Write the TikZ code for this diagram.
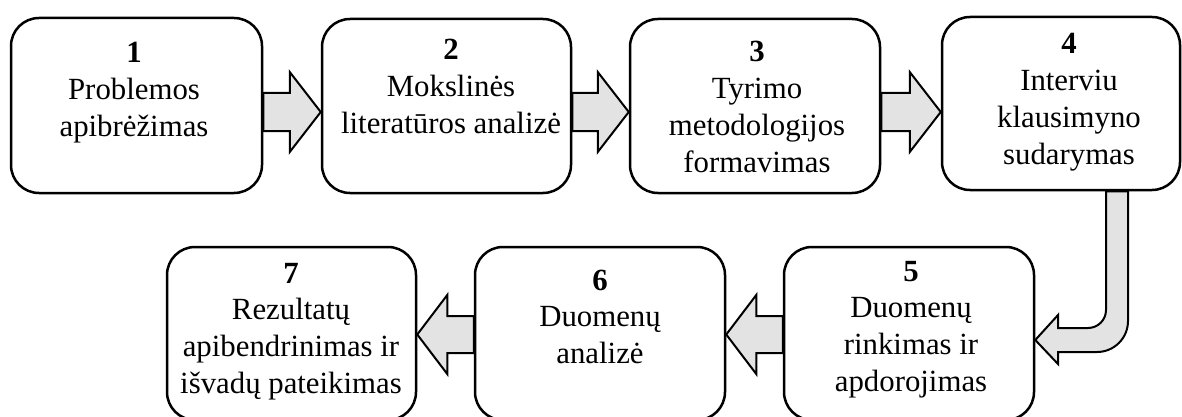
\documentclass[tikz,border=0pt]{standalone}
\usepackage{fontspec}
\setmainfont{Liberation Serif}
\usetikzlibrary{calc}

\definecolor{arrowfill}{gray}{0.89}

\tikzset{
  stepbox/.style={draw, line width=2.5pt, rounded corners=28pt, inner sep=0pt, rectangle},
  blockarrow/.style={draw, fill=arrowfill, line width=2pt, line join=miter},
  lbl/.style={inner sep=0pt, anchor=base, font=\fontsize{30.8}{36.8}\selectfont}
}

% right-pointing block arrow: from node, to node, shaft centre y
\newcommand\rightblock[3]{%
  \draw[blockarrow] ($(#1.east |- 0,#3)+(0,-19)$) -- ($(#2.west |- 0,#3)+(-31,-19)$)
    -- ($(#2.west |- 0,#3)+(-31,-40)$) -- (#2.west |- 0,#3)
    -- ($(#2.west |- 0,#3)+(-31,40)$) -- ($(#2.west |- 0,#3)+(-31,19)$)
    -- ($(#1.east |- 0,#3)+(0,19)$) -- cycle;}
% left-pointing block arrow: from node, to node, shaft centre y
\newcommand\leftblock[3]{%
  \draw[blockarrow] ($(#1.west |- 0,#3)+(0,-18.5)$) -- ($(#2.east |- 0,#3)+(30,-18.5)$)
    -- ($(#2.east |- 0,#3)+(30,-39.5)$) -- (#2.east |- 0,#3)
    -- ($(#2.east |- 0,#3)+(30,39.5)$) -- ($(#2.east |- 0,#3)+(30,18.5)$)
    -- ($(#1.west |- 0,#3)+(0,18.5)$) -- cycle;}

\newcommand\steptext[1]{\begin{tabular}[t]{@{}c@{}}#1\end{tabular}}

\begin{document}
\begin{tikzpicture}[x=1pt, y=-1pt]
  \useasboundingbox (0,0) rectangle (1182,417);
  \clip (0,0) rectangle (1182,417);

  % process steps
  \node[stepbox, minimum width=251, minimum height=175] (b1) at (136.5,105.5) {};
  \node[stepbox, minimum width=249, minimum height=174] (b2) at (446.5,106) {};
  \node[stepbox, minimum width=250, minimum height=174] (b3) at (755,106) {};
  \node[stepbox, minimum width=238, minimum height=173] (b4) at (1061,103.5) {};
  \node[stepbox, minimum width=250, minimum height=173] (b5) at (909,333.5) {};
  \node[stepbox, minimum width=250, minimum height=173] (b6) at (600,333.5) {};
  \node[stepbox, minimum width=249, minimum height=173] (b7) at (291.5,333.5) {};

  % step labels
  \node[lbl] (t1) at (134,63) {\steptext{\textbf{1}\\Problemos\\apibrėžimas}};
  \node[lbl] (t2) at (451,60) {\steptext{\textbf{2}\\Mokslinės\\literatūros analizė}};
  \node[lbl] (t3) at (757,62) {\steptext{\textbf{3}\\Tyrimo\\metodologijos\\formavimas}};
  \node[lbl] (t4) at (1069,54) {\steptext{\textbf{4}\\Interviu\\klausimyno\\sudarymas}};
  \node[lbl] (t5) at (911,281) {\steptext{\textbf{5}\\Duomenų\\rinkimas ir\\apdorojimas}};
  \node[lbl] (t6) at (600,290) {\steptext{\textbf{6}\\Duomenų\\analizė}};
  \node[lbl] (t7) at (291,283) {\steptext{\textbf{7}\\Rezultatų\\apibendrinimas ir\\išvadų pateikimas}};

  % connecting arrows
  \rightblock{b1}{b2}{112}
  \rightblock{b2}{b3}{112}
  \rightblock{b3}{b4}{112}
  \leftblock{b5}{b6}{334.5}
  \leftblock{b6}{b7}{334.5}

  % bent arrow from step 4 down to step 5
  \draw[blockarrow] (1106,0 |- b4.south) -- (1106,310)
    arc[start angle=0, end angle=90, radius=18] -- (1058,328) -- (1058,315)
    -- (b5.east |- 0,340) -- (1058,364) -- (1058,352) -- (1097,352)
    arc[start angle=90, end angle=0, radius=31] -- (1128,0 |- b4.south) -- cycle;
\end{tikzpicture}
\end{document}
